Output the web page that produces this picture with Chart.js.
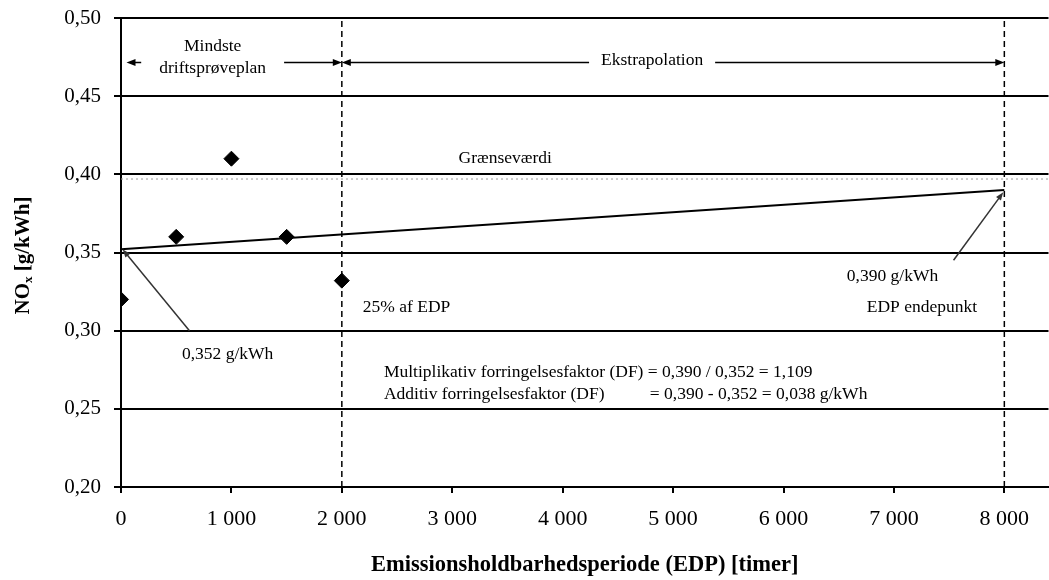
<!DOCTYPE html>
<html>
<head>
<meta charset="utf-8">
<script src="https://cdn.jsdelivr.net/npm/chart.js@4.4.1/dist/chart.umd.min.js"></script>
<style>
  html, body { margin: 0; padding: 0; background: #fff; overflow: hidden; }
  canvas { display: block; }
</style>
</head>
<body>
<canvas id="chart" width="1057" height="580"></canvas>
<script>
// measured NOx values during the minimum service accumulation schedule
const sampleHours = [0, 500, 1000, 1500, 2000];
const sampleNox = [0.320, 0.360, 0.410, 0.360, 0.332];
// extrapolated deterioration line
const trendHours = [0, 8000];
const trendNox = [0.352, 0.390];
const limitNox = 0.397;           // Grænseværdi
const markerHours = [2000, 8000]; // 25% af EDP, EDP endepunkt
const xTickValues = [0, 1000, 2000, 3000, 4000, 5000, 6000, 7000, 8000];
const yTickValues = [0.20, 0.25, 0.30, 0.35, 0.40, 0.45, 0.50];
const xMin = 0, xMax = 8400, yMin = 0.20, yMax = 0.50;

// annotation texts (positions in data units)
const notes = [
  { text: 'Grænseværdi', x: 3480, y: 0.4105, align: 'center' },
  { text: '25% af EDP', x: 2190, y: 0.3146, align: 'left' },
  { text: '0,352 g/kWh', x: 552, y: 0.2845, align: 'left' },
  { text: '0,390 g/kWh', x: 6573, y: 0.3344, align: 'left' },
  { text: 'EDP endepunkt', x: 6754, y: 0.3146, align: 'left' }
];
const dfLine1 = ['Multiplikativ forringelsesfaktor (DF) ', '= 0,390 / 0,352 = 1,109'];
const dfLine2 = ['Additiv forringelsesfaktor (DF)', '= 0,390 - 0,352 = 0,038 g/kWh'];
const dfPos = { x: 2381, y1: 0.273, y2: 0.259 };

const spanY = 0.472;
const spans = [
  { from: 50, to: 2000, at: 830, lines: ['Mindste', 'driftsprøveplan'], gap: 18 },
  { from: 2000, to: 8000, at: 4810, lines: ['Ekstrapolation'], gap: 12 }
];
const leaders = [
  { from: [620, 0.300], to: [15, 0.352] },
  { from: [7540, 0.345], to: [7990, 0.3885] }
];

const SERIF = '"Liberation Serif", "DejaVu Serif", serif';
Chart.defaults.font.family = SERIF;
Chart.defaults.color = '#000';

function fmtX(v) {
  return String(v).replace(/\B(?=(\d{3})+(?!\d))/g, ' ');
}

function head(ctx, tx, ty, ux, uy, len, half) {
  ctx.beginPath();
  ctx.moveTo(tx, ty);
  ctx.lineTo(tx - ux * len - uy * half, ty - uy * len + ux * half);
  ctx.lineTo(tx - ux * len + uy * half, ty - uy * len - ux * half);
  ctx.closePath();
  ctx.fill();
}

const overlay = {
  id: 'overlay',
  afterDatasetsDraw(chart) {
    const { ctx, scales: { x, y } } = chart;
    ctx.save();
    ctx.fillStyle = '#000';
    ctx.strokeStyle = '#000';
    ctx.textBaseline = 'middle';
    ctx.font = '17.5px ' + SERIF;

    // span arrows at the top
    const ay = Math.round(y.getPixelForValue(spanY)) + 0.5;
    spans.forEach(s => {
      const x1 = x.getPixelForValue(s.from), x2 = x.getPixelForValue(s.to);
      const cx = x.getPixelForValue(s.at);
      const w = Math.max(...s.lines.map(t => ctx.measureText(t).width));
      ctx.lineWidth = 1.5;
      ctx.beginPath();
      ctx.moveTo(x1 + 6, ay); ctx.lineTo(cx - w / 2 - s.gap, ay);
      ctx.moveTo(cx + w / 2 + s.gap, ay); ctx.lineTo(x2 - 6, ay);
      ctx.stroke();
      head(ctx, x1, ay, -1, 0, 9, 3.5);
      head(ctx, x2, ay, 1, 0, 9, 3.5);
      ctx.textAlign = 'center';
      if (s.lines.length === 2) {
        ctx.fillText(s.lines[0], cx, ay - 16);
        ctx.fillText(s.lines[1], cx, ay + 6);
      } else {
        ctx.fillText(s.lines[0], cx, ay - 2);
      }
    });

    // leader lines with arrow heads
    leaders.forEach(l => {
      const fx = x.getPixelForValue(l.from[0]), fy = y.getPixelForValue(l.from[1]);
      const tx = x.getPixelForValue(l.to[0]), ty = y.getPixelForValue(l.to[1]);
      const d = Math.hypot(tx - fx, ty - fy), ux = (tx - fx) / d, uy = (ty - fy) / d;
      ctx.strokeStyle = '#333';
      ctx.fillStyle = '#333';
      ctx.lineWidth = 1.5;
      ctx.beginPath();
      ctx.moveTo(fx, fy); ctx.lineTo(tx - ux * 5, ty - uy * 5);
      ctx.stroke();
      head(ctx, tx, ty, ux, uy, 8, 3);
    });
    ctx.fillStyle = '#000';

    notes.forEach(n => {
      ctx.textAlign = n.align;
      ctx.fillText(n.text, x.getPixelForValue(n.x), y.getPixelForValue(n.y));
    });

    // deterioration factor text, "=" signs aligned
    ctx.textAlign = 'left';
    const lx = x.getPixelForValue(dfPos.x);
    const eqX = lx + ctx.measureText(dfLine1[0]).width;
    ctx.fillText(dfLine1[0], lx, y.getPixelForValue(dfPos.y1));
    ctx.fillText(dfLine1[1], eqX, y.getPixelForValue(dfPos.y1));
    ctx.fillText(dfLine2[0], lx, y.getPixelForValue(dfPos.y2));
    ctx.fillText(dfLine2[1], eqX + 2, y.getPixelForValue(dfPos.y2));

    // y axis title with subscript
    const cy = (chart.chartArea.top + chart.chartArea.bottom) / 2 + 3;
    ctx.translate(24, cy);
    ctx.rotate(-Math.PI / 2);
    const big = 'bold 21px ' + SERIF, small = 'bold 13px ' + SERIF;
    ctx.font = big; const wNO = ctx.measureText('NO').width;
    ctx.font = small; const wx = ctx.measureText('x').width;
    ctx.font = big; const wRest = ctx.measureText(' [g/kWh]').width;
    let px = -(wNO + wx + wRest) / 2;
    ctx.fillText('NO', px, 0); px += wNO;
    ctx.font = small; ctx.fillText('x', px, 5); px += wx;
    ctx.font = big; ctx.fillText(' [g/kWh]', px, 0);
    ctx.restore();
  }
};

const lineDs = (data, extra) => Object.assign({
  data, showLine: true, pointRadius: 0, borderColor: '#000', borderWidth: 2, fill: false
}, extra);

const datasets = [];
markerHours.forEach(h => datasets.push(lineDs(
  [{ x: h, y: yMin }, { x: h, y: yMax }], { borderWidth: 1.5, borderDash: [6, 4] })));
datasets.push(lineDs([{ x: xMin, y: limitNox }, { x: xMax, y: limitNox }],
  { borderColor: '#9a9a9a', borderWidth: 1, borderDash: [2, 3] }));
datasets.push(lineDs(trendHours.map((h, i) => ({ x: h, y: trendNox[i] })), { borderWidth: 2 }));
datasets.push({
  data: sampleHours.map((h, i) => ({ x: h, y: sampleNox[i] })),
  pointStyle: 'rectRot', pointRadius: 7.5, backgroundColor: '#000', borderColor: '#000', borderWidth: 1,
  showLine: false
});

new Chart(document.getElementById('chart'), {
  type: 'scatter',
  data: { datasets },
  options: {
    responsive: false,
    animation: false,
    devicePixelRatio: 1,
    layout: { padding: { top: 18, right: 0, left: 0, bottom: 0 } },
    plugins: { legend: { display: false }, tooltip: { enabled: false } },
    scales: {
      x: {
        type: 'linear', min: xMin, max: xMax,
        afterBuildTicks: s => { s.ticks = xTickValues.map(v => ({ value: v })); },
        afterFit: s => { s.height = 93; s.paddingRight = 0; s.paddingLeft = 0; },
        ticks: { callback: v => fmtX(v), font: { size: 22 }, padding: 13, maxRotation: 0, color: '#000' },
        grid: { drawOnChartArea: false, drawTicks: true, tickLength: 6, color: '#000', lineWidth: 2 },
        border: { display: true, color: '#000', width: 2 },
        title: {
          display: true, text: 'Emissionsholdbarhedsperiode (EDP) [timer]',
          font: { size: 22.5, weight: 'bold' }, color: '#000', padding: { top: 0, bottom: 1 }
        }
      },
      y: {
        min: yMin, max: yMax,
        afterBuildTicks: s => { s.ticks = yTickValues.map(v => ({ value: v })); },
        afterFit: s => { s.width = 121; s.paddingTop = 0; },
        ticks: { callback: v => v.toFixed(2).replace('.', ','), font: { size: 21 }, padding: 13, color: '#000' },
        grid: { color: '#000', lineWidth: 2, tickLength: 7 },
        border: { display: true, color: '#000', width: 2 }
      }
    }
  },
  plugins: [overlay]
});
</script>
</body>
</html>
